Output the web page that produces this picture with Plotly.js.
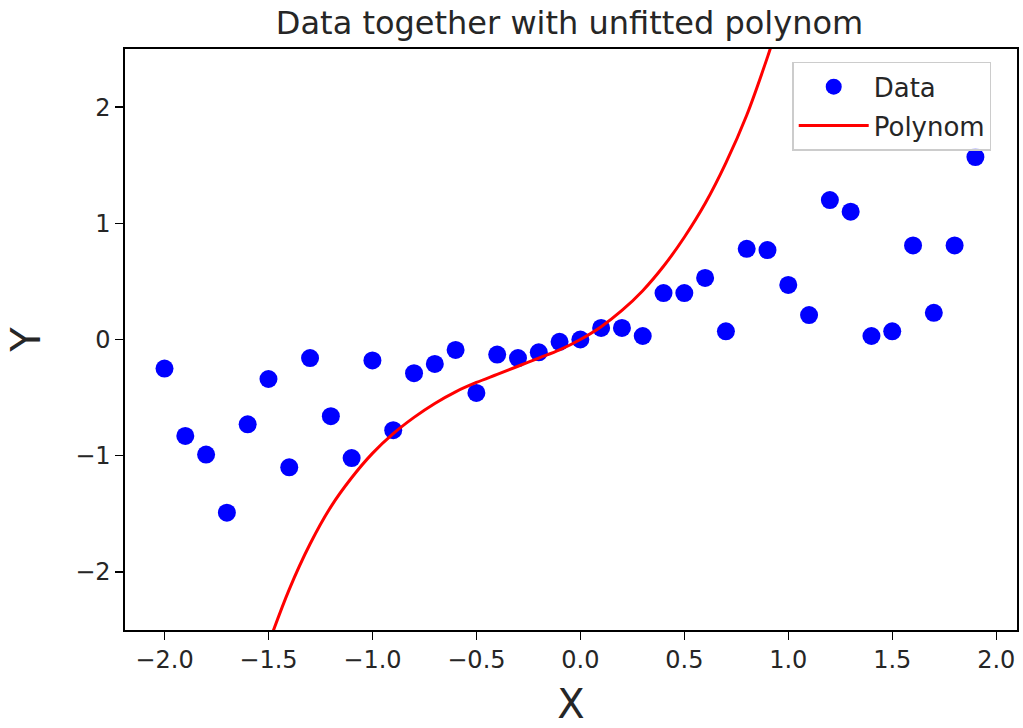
<!DOCTYPE html>
<html>
<head>
<meta charset="utf-8">
<script src="https://cdn.plot.ly/plotly-3.0.1.min.js"></script>
<style>html,body{margin:0;padding:0;background:#fff;}#chart{width:1023px;height:728px;}</style>
</head>
<body>
<div id="chart"></div>
<script>
// Data points
const dataX = [-2.0,-1.9,-1.8,-1.7,-1.6,-1.5,-1.4,-1.3,-1.2,-1.1,-1.0,-0.9,-0.8,-0.7,-0.6,-0.5,-0.4,-0.3,-0.2,-0.1,
               0.0,0.1,0.2,0.3,0.4,0.5,0.6,0.7,0.8,0.9,1.0,1.1,1.2,1.3,1.4,1.5,1.6,1.7,1.8,1.9];
const dataY = [-0.25,-0.83,-0.99,-1.49,-0.73,-0.34,-1.10,-0.16,-0.66,-1.02,-0.18,-0.78,-0.29,-0.21,-0.09,-0.46,-0.13,-0.16,-0.11,-0.02,
               0.0,0.10,0.10,0.03,0.40,0.40,0.53,0.07,0.78,0.77,0.47,0.21,1.20,1.10,0.03,0.07,0.81,0.23,0.81,1.57];
// Polynom curve samples
const polyX = [-1.5,-1.4,-1.3,-1.2,-1.1,-1.0,-0.9,-0.8,-0.7,-0.6,-0.5,-0.4,-0.3,-0.2,-0.1,0.0,0.1,0.2,0.3,0.4,0.5,0.6,0.7,0.8,0.9,0.92];
const polyY = [-2.62,-2.15,-1.76,-1.44,-1.19,-0.98,-0.81,-0.67,-0.55,-0.45,-0.37,-0.30,-0.23,-0.16,-0.09,0.0,0.11,0.25,0.42,0.63,0.88,1.17,1.52,1.93,2.43,2.54];

const titleText = "Data together with unfitted polynom";
const font = "DejaVu Sans, sans-serif";
const txt = "#262626";

const traces = [
  {x: dataX, y: dataY, type: "scatter", mode: "markers", name: "Data", legendgroup: "a",
   marker: {color: "#0000ff", size: 18}},
  {x: polyX, y: polyY, type: "scatter", mode: "lines", name: "Polynom", legendgroup: "b",
   line: {color: "#ff0000", width: 3, shape: "spline", smoothing: 1}}
];

const axisCommon = {
  showgrid: false, zeroline: false, showline: true, mirror: true,
  linecolor: "#000", linewidth: 1.6, ticks: "outside", ticklen: 8, tickwidth: 1.4, tickcolor: "#000",
  tickfont: {family: font, size: 24, color: txt}
};

const layout = {
  width: 1023, height: 728,
  margin: {l: 125, r: 6, t: 49, b: 98},
  paper_bgcolor: "#fff", plot_bgcolor: "#fff",
  font: {family: font},
  title: {text: titleText, x: 0.5567, xanchor: "center", y: 0.969, yanchor: "middle",
          font: {family: font, size: 32, color: txt}},
  xaxis: Object.assign({}, axisCommon, {range: [-2.19, 2.1], tickvals: [-2,-1.5,-1,-0.5,0,0.5,1,1.5,2],
          tickformat: ".1f", title: {text: "X", font: {family: font, size: 40, color: txt}, standoff: 16}}),
  yaxis: Object.assign({}, axisCommon, {range: [-2.5, 2.5], tickvals: [-2,-1,0,1,2],
          title: {text: "Y", font: {family: font, size: 40, color: txt}, standoff: 22}}),
  legend: {x: 0.748, y: 0.978, xanchor: "left", yanchor: "top", bgcolor: "rgba(255,255,255,0.8)",
           bordercolor: "#cccccc", borderwidth: 1.5, font: {family: font, size: 26, color: txt},
           traceorder: "grouped", tracegroupgap: 2, itemwidth: 70},
  showlegend: true
};

Plotly.newPlot("chart", traces, layout, {displayModeBar: false, staticPlot: true});
</script>
</body>
</html>
